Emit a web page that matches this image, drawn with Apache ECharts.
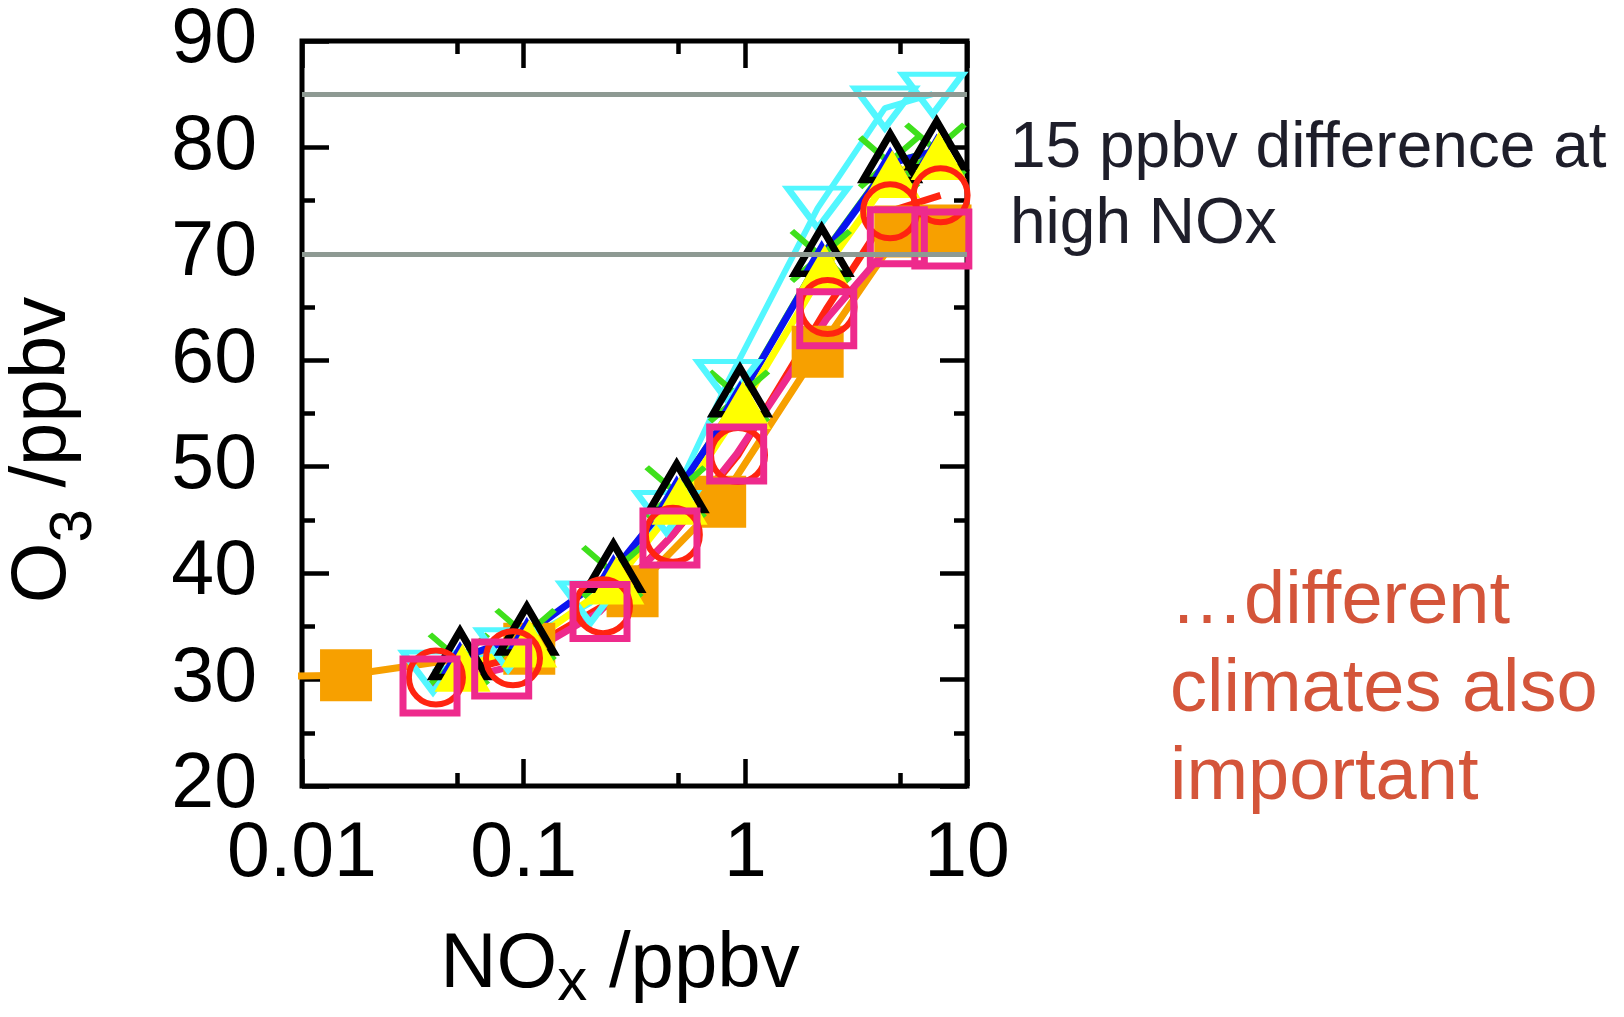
<!DOCTYPE html>
<html><head><meta charset="utf-8">
<script src="https://cdn.jsdelivr.net/npm/echarts@6/dist/echarts.min.js"></script>
<style>html,body{margin:0;padding:0;background:#fff;}#c{width:1624px;height:1017px;}</style>
</head><body><div id="c"></div>
<script>
// ---- data ----
const yTickValues = [20, 30, 40, 50, 60, 70, 80, 90];
const xMajorTicks = [0.01, 0.1, 1, 10];
const xMinorTicks = [0.05, 0.5, 5];
const refLines = [85, 70];

const orangeX = [0.004, 0.0158, 0.106, 0.31, 0.77, 2.12, 5.0, 8.0];
const orangeY = [30.2, 30.4, 32.9, 38.3, 46.7, 60.8, 72.1, 72.2];
const greenX  = [0.051, 0.102, 0.251, 0.485, 0.936, 2.19, 4.45, 7.2];
const greenY  = [31.9, 34.2, 40.1, 47.6, 56.6, 69.8, 78.6, 79.8];
const cyanX   = [0.039, 0.085, 0.20, 0.44, 0.835, 2.12, 4.26, 7.0];
const cyanY   = [30.7, 32.8, 37.2, 45.7, 58.0, 74.3, 83.7, 85.0];
const blueX   = [0.0516, 0.1033, 0.254, 0.490, 0.946, 2.21, 4.5, 7.3];
const blueY   = [32.0, 34.3, 40.2, 47.6, 56.5, 69.7, 78.5, 79.7];
const blackX  = [0.0516, 0.1033, 0.254, 0.490, 0.946, 2.21, 4.5, 7.3];
const blackY  = [32.4, 34.7, 40.6, 48.1, 57.1, 70.3, 79.1, 80.3];
const yellowX = [0.053, 0.106, 0.262, 0.505, 0.975, 2.28, 4.6, 7.45];
const yellowY = [31.1, 33.4, 39.3, 46.8, 55.8, 68.6, 77.5, 79.2];
const redX    = [0.0402, 0.0895, 0.228, 0.471, 0.927, 2.35, 4.5, 7.6];
const redY    = [30.2, 32.0, 36.9, 43.6, 51.1, 65.0, 74.0, 75.5];
const pinkX   = [0.0378, 0.0796, 0.221, 0.457, 0.914, 2.33, 4.85, 7.7];
const pinkY   = [29.4, 31.0, 36.4, 43.3, 51.2, 63.9, 71.6, 71.4];

const pairs = (xs, ys) => xs.map((x, i) => [x, ys[i]]);
const FONT = '"Liberation Sans", Arial, Helvetica, sans-serif';
const TRANSPARENT = 'rgba(0,0,0,0)';

const chart = echarts.init(document.getElementById('c'), null, {renderer: 'canvas'});

function xAxisDef(position, major) {
  return {
    type: 'log', logBase: 10, min: 0.01, max: 10, position: position,
    axisLine: {show: false}, splitLine: {show: false},
    axisTick: {show: true, inside: true, length: major ? 27 : 13,
      customValues: major ? xMajorTicks : xMinorTicks,
      lineStyle: {color: '#000', width: 4.5}},
    axisLabel: (major && position === 'bottom') ? {
      show: true, customValues: xMajorTicks, margin: 30, fontSize: 77, fontFamily: FONT, color: '#000',
      formatter: v => String(v)
    } : {show: false}
  };
}
function yAxisDef(position) {
  return {
    type: 'value', min: 20, max: 90, interval: 10, position: position,
    axisLine: {show: false}, splitLine: {show: false}, minorSplitLine: {show: false},
    axisTick: {show: true, inside: true, length: 27, lineStyle: {color: '#000', width: 4.5}},
    minorTick: {show: true, splitNumber: 2, length: 13, lineStyle: {color: '#000', width: 4.5}},
    axisLabel: position === 'left' ? {show: true, margin: 45, fontSize: 77, fontFamily: FONT, color: '#000',
      showMinLabel: true, showMaxLabel: true} : {show: false}
  };
}

function lineSeries(name, xs, ys, color, symbol, size, itemStyle, extra) {
  return Object.assign({
    name: name, type: 'line', data: pairs(xs, ys), xAxisIndex: 0, yAxisIndex: 0,
    symbol: symbol, symbolSize: size, showAllSymbol: true, clip: true,
    lineStyle: {color: color, width: 7},
    itemStyle: itemStyle,
    emphasis: {disabled: true}
  }, extra || {});
}

const option = {
  animation: false,
  backgroundColor: '#fff',
  grid: {left: 302, right: 657, top: 41, bottom: 231, show: true, borderColor: '#000', borderWidth: 5,
    backgroundColor: TRANSPARENT, containLabel: false, outerBoundsMode: 'none'},
  xAxis: [xAxisDef('bottom', true), xAxisDef('bottom', false), xAxisDef('top', true), xAxisDef('top', false)],
  yAxis: [yAxisDef('left'), yAxisDef('right')],
  series: [
    lineSeries('orange', orangeX, orangeY, '#f7a000', 'rect', 52, {color: '#f7a000'}),
    lineSeries('green', greenX, greenY, '#3fe01c', 'path://M0,0L10,10M10,0L0,10', [58, 50],
      {color: TRANSPARENT, borderColor: '#3fe01c', borderWidth: 6}, {lineStyle: {color: '#3fe01c', width: 5}}),
    lineSeries('cyan', cyanX, cyanY, '#52f7ff', 'triangle', [60, 40],
      {color: TRANSPARENT, borderColor: '#52f7ff', borderWidth: 6, borderJoin: 'miter'},
      {symbolRotate: 180, lineStyle: {color: '#52f7ff', width: 6}}),
    lineSeries('blue', blueX, blueY, '#0a14f0', 'triangle', [40, 34], {color: '#0a14f0'}),
    lineSeries('black', blackX, blackY, '#000', 'triangle', [54, 46],
      {color: TRANSPARENT, borderColor: '#000', borderWidth: 7, borderJoin: 'miter'},
      {lineStyle: {width: 0, opacity: 0}}),
    lineSeries('yellow', yellowX, yellowY, '#ffff00', 'triangle', [56, 48], {color: '#ffff00'}),
    lineSeries('red', redX, redY, '#ff2410', 'circle', 54,
      {color: TRANSPARENT, borderColor: '#ff2410', borderWidth: 6}),
    lineSeries('pink', pinkX, pinkY, '#ee2a8c', 'rect', 54,
      {color: TRANSPARENT, borderColor: '#ee2a8c', borderWidth: 7},
      {markLine: {silent: true, symbol: ['none', 'none'], label: {show: false},
        lineStyle: {color: '#8e9a93', width: 5, type: 'solid'},
        emphasis: {disabled: true},
        data: refLines.map(v => ({yAxis: v}))}})
  ],
  graphic: [
    {type: 'text', x: 620, y: 965, silent: true, style: {
      text: '{a|NO}{b|x}{a| /ppbv}', align: 'center', verticalAlign: 'middle',
      rich: {a: {fontSize: 78, fontFamily: FONT, fill: '#000', lineHeight: 96},
             b: {fontSize: 60, fontFamily: FONT, fill: '#000', lineHeight: 60, verticalAlign: 'bottom'}}}},
    {type: 'text', x: 43, y: 450, rotation: Math.PI / 2, silent: true, style: {
      text: '{a|O}{b|3}{a| /ppbv}', align: 'center', verticalAlign: 'middle',
      rich: {a: {fontSize: 78, fontFamily: FONT, fill: '#000', lineHeight: 123},
             b: {fontSize: 60, fontFamily: FONT, fill: '#000', lineHeight: 60, verticalAlign: 'bottom'}}}},
    {type: 'text', x: 1010, y: 187, silent: true, style: {
      text: '15 ppbv difference at\nhigh NOx', fontSize: 64, fontFamily: FONT, fill: '#1e1e2a',
      lineHeight: 76, align: 'left', verticalAlign: 'middle'}},
    {type: 'text', x: 1170, y: 691, silent: true, style: {
      text: '\u2026different\nclimates also\nimportant', fontSize: 74, fontFamily: FONT, fill: '#d4553a',
      lineHeight: 88, align: 'left', verticalAlign: 'middle'}}
  ]
};
chart.setOption(option);
</script>
</body></html>
